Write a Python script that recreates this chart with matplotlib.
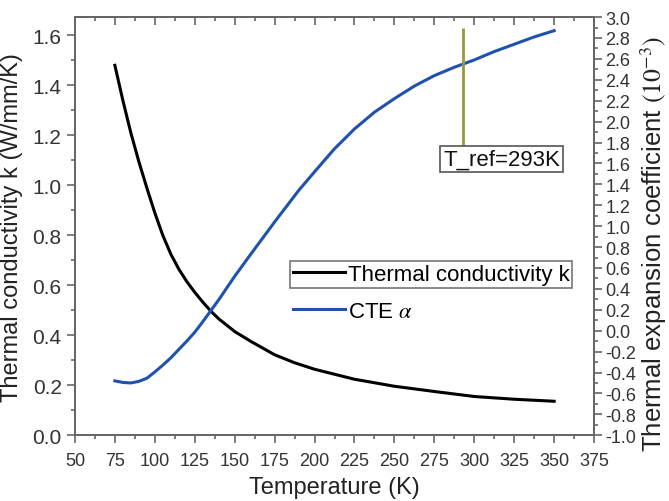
import numpy as np
import matplotlib.pyplot as plt
from matplotlib.ticker import MultipleLocator

plt.rcParams['font.family'] = ['Liberation Sans', 'DejaVu Sans']
plt.rcParams['mathtext.fontset'] = 'stix'
plt.rcParams['axes.unicode_minus'] = False

# thermal conductivity k (W/mm/K), left axis
T_k = [75, 80, 85, 90, 95, 100, 105, 110, 115, 120, 125, 130, 135, 140, 150, 160, 175, 187.5,
       200, 225, 250, 275, 300, 325, 350]
k = [1.48, 1.34, 1.21, 1.095, 0.99, 0.89, 0.80, 0.725, 0.665, 0.615, 0.572, 0.533, 0.497, 0.466,
     0.415, 0.376, 0.322, 0.29, 0.264, 0.224, 0.196, 0.175, 0.155, 0.144, 0.136]

# CTE alpha (1e-3), right axis
T_a = [75, 80, 85, 90, 95, 100, 105, 110, 115, 120, 125, 130, 135, 140, 150, 160, 175, 190,
       200, 212.5, 225, 237.5, 250, 262.5, 275, 287.5, 300, 312.5, 325, 337.5, 350]
alpha = [-0.48, -0.495, -0.50, -0.485, -0.455, -0.395, -0.33, -0.26, -0.18, -0.10, -0.015, 0.085,
         0.19, 0.295, 0.52, 0.73, 1.04, 1.34, 1.52, 1.74, 1.93, 2.09, 2.22, 2.34, 2.44, 2.52,
         2.59, 2.67, 2.74, 2.81, 2.87]

T_ref = 293
ref_lo, ref_hi = 1.76, 2.90

spine_c = '#666666'
tick_c = '#333333'

fig = plt.figure(figsize=(6.69, 5.02), dpi=100)
fig.subplots_adjust(left=0.112, right=0.888, bottom=0.131, top=0.964)
ax = fig.add_subplot(111)
ax2 = ax.twinx()

l1, = ax.plot(T_k, k, color='black', lw=2.2, label='Thermal conductivity k')
l2, = ax2.plot(T_a, alpha, color='#1f52ad', lw=2.2, label='CTE $\\alpha$')

ax2.vlines(T_ref, ref_lo, ref_hi, color='#9c9640', lw=2, zorder=2)
ax2.text(280.5, 1.64, 'T_ref=293K', fontsize=16, color='#111111', ha='left', va='center', zorder=5,
         bbox=dict(boxstyle='square,pad=0.12', fc='white', ec='#555555', lw=1.2))

ax.set_xlim(50, 375)
ax.set_ylim(0, 1.673)
ax2.set_ylim(-1, 3)

ax.xaxis.set_major_locator(MultipleLocator(25))
ax.xaxis.set_minor_locator(MultipleLocator(12.5))
ax.yaxis.set_major_locator(MultipleLocator(0.2))
ax.yaxis.set_minor_locator(MultipleLocator(0.1))
ax2.yaxis.set_major_locator(MultipleLocator(0.2))
ax2.yaxis.set_minor_locator(MultipleLocator(0.1))

ax.tick_params(axis='x', which='both', direction='out', colors=spine_c, labelcolor=tick_c,
               labelsize=13, pad=6, width=1.2)
ax.tick_params(axis='x', which='major', length=6)
ax.tick_params(axis='x', which='minor', length=3)
ax.tick_params(axis='y', which='both', direction='out', colors=spine_c, labelcolor=tick_c,
               labelsize=15, width=1.2)
ax.tick_params(axis='y', which='major', length=6)
ax.tick_params(axis='y', which='minor', length=3)
ax2.tick_params(axis='y', which='both', direction='out', colors=spine_c, labelcolor=tick_c,
                labelsize=13, pad=2, width=1.2)
ax2.tick_params(axis='y', which='major', length=6)
ax2.tick_params(axis='y', which='minor', length=3)

# top ticks point inward
sec = ax.secondary_xaxis('top')
sec.xaxis.set_major_locator(MultipleLocator(25))
sec.xaxis.set_minor_locator(MultipleLocator(12.5))
sec.tick_params(which='both', direction='in', width=1.2, colors=spine_c, labeltop=False)
sec.tick_params(which='major', length=6)
sec.tick_params(which='minor', length=3)

for a in (ax, ax2, sec):
    for s in a.spines.values():
        s.set_color(spine_c)
        s.set_linewidth(1.3)

ax.set_xlabel('Temperature (K)', fontsize=17, color='#222222', labelpad=5)
ax.set_ylabel('Thermal conductivity k (W/mm/K)', fontsize=17, color='#222222', labelpad=7)
ax2.set_ylabel('Thermal expansion coefficient $(10^{-3})$', fontsize=18.5, color='#222222')
ax2.yaxis.set_label_coords(1.085, 0.46)

leg1 = ax2.legend(handles=[l1], loc='upper left', bbox_to_anchor=(0.414, 0.416), borderaxespad=0,
                  fontsize=16, frameon=True, fancybox=False, borderpad=0.12, handlelength=2.35,
                  handletextpad=0.15)
leg1.get_frame().set_edgecolor('#555555')
leg1.get_frame().set_linewidth(1.2)
ax2.add_artist(leg1)
ax2.legend(handles=[l2], loc='center left', bbox_to_anchor=(0.414, 0.297), borderaxespad=0,
           fontsize=16, frameon=False, borderpad=0.12, handlelength=2.35, handletextpad=0.15)

fig.savefig('out.png', dpi=100)
